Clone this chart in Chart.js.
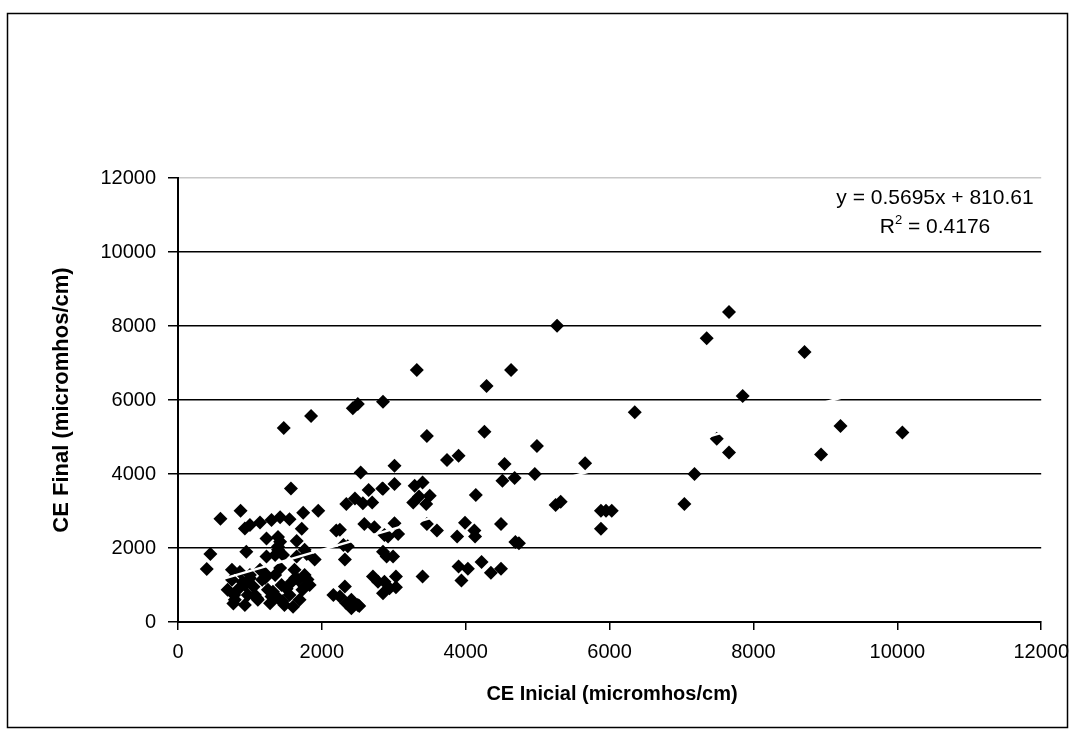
<!DOCTYPE html>
<html>
<head>
<meta charset="utf-8">
<script src="https://cdn.jsdelivr.net/npm/chart.js@4.4.1/dist/chart.umd.min.js"></script>
<style>
html,body{margin:0;padding:0;background:#fff;}
#wrap{position:relative;width:1079px;height:740px;}
canvas{display:block;}
</style>
</head>
<body>
<div id="wrap"><canvas id="c" width="1079" height="740"></canvas></div>
<script>
// ---- data ----
const ceInicial = [
  5270,7660,7350,8710,7850,6350,7490,7660,9210,10070,8940,7180,4990,5660,4960,5250,5320,5880,5950,6030,
  5880,7040,4740,3320,4630,4290,2850,3460,4260,3740,3900,3010,4540,4510,4680,2850,3010,3290,3400,3270,
  3350,3500,3450,4140,3460,3600,3990,4120,4130,3880,4490,4690,3900,4030,3940,4220,4350,4490,3400,3010,
  3060,2870,2920,2850,2990,3030,2870,3030,2850,2430,2500,2540,2650,2840,2340,2460,2570,2700,2590,2730,
  2250,2360,2320,2900,2710,2780,2940,2320,2250,2340,2500,2410,2160,2410,2520,1570,590,870,930,1000,
  1140,1300,1420,1550,1740,1950,1230,1390,1420,1720,1650,2200,450,400,950,2300,1390,1460,1650,1790,
  1900,750,770,1300,1470,1850,1760,1600,1760,1230,1390,1350,
  750,830,930,1000,1070,1170,1250,1350,1440,1550,1670,1730,790,930,1110,1280,1480,1690,860,1140,
  1420,1620,1830,1760,690,970,1210,1390,1580,780,
  1050,1320,1510,1200,900,1630,1100,1450,1800,1000
];
const ceFinal = [
  8010,8380,7670,7300,6110,5670,4950,4580,5300,5120,4530,4000,4760,4290,4000,3160,3250,3010,3010,3010,
  2520,3190,2130,6810,6810,6380,5950,5030,5140,4380,4490,4220,4270,3820,3890,3600,3730,3680,3770,3230,
  3390,3410,3190,3430,2650,2470,2680,2470,2310,2310,2650,2160,1500,1440,1120,1620,1330,1440,1230,2670,
  2380,2350,2310,1900,1770,1230,1090,940,780,5780,5890,4040,3570,3610,3190,3340,3210,3230,2650,2560,
  2490,2050,1690,1770,1230,1090,910,960,690,510,460,370,730,600,430,3610,2790,3010,2530,2620,
  2690,2760,2830,2780,2950,3010,2260,2300,2170,2520,2190,2470,1840,1430,1900,2080,1950,1810,1770,1840,
  1690,1410,500,690,5240,5570,1950,410,960,1770,2040,1810,
  1140,870,1000,1270,730,1140,870,1270,1000,730,1140,870,600,460,600,510,460,600,1350,1410,
  1460,1410,1000,1270,870,730,1190,650,1080,730,
  950,820,900,1330,1080,1190,640,560,1150,1180
];
const trendCoef = [0.5695, 810.61];          // slope, intercept (from the chart's equation)
const xTicks = [0, 2000, 4000, 6000, 8000, 10000, 12000];
const yTicks = [0, 2000, 4000, 6000, 8000, 10000, 12000];
const eqLines = ['y = 0.5695x + 810.61', 'R', '2', ' = 0.4176'];
const xTitle = 'CE Inicial (micromhos/cm)';
const yTitle = 'CE Final (micromhos/cm)';

const points = ceInicial.map((x, i) => ({x: x, y: ceFinal[i]}));
const xMin = Math.min(...ceInicial), xMax = Math.max(...ceInicial);
const trend = [xMin, xMax].map(x => ({x: x, y: trendCoef[0] * x + trendCoef[1]}));

const FONT = '"Liberation Sans", Arial, sans-serif';

const decor = {
  id: 'decor',
  afterDraw(chart) {
    const ctx = chart.ctx;
    ctx.save();
    // outer frame
    ctx.strokeStyle = '#000';
    ctx.lineWidth = 1.5;
    ctx.strokeRect(7.5, 13.5, 1060, 714);
    ctx.fillStyle = '#000';
    // y title
    ctx.save();
    ctx.translate(62, 400);
    ctx.rotate(-Math.PI / 2);
    ctx.font = 'bold 22px ' + FONT;
    ctx.textAlign = 'center';
    ctx.textBaseline = 'middle';
    ctx.fillText(yTitle, 0, 0);
    ctx.restore();
    // x title
    ctx.font = 'bold 20px ' + FONT;
    ctx.textAlign = 'center';
    ctx.textBaseline = 'middle';
    ctx.fillText(xTitle, 612, 694);
    // equation (both lines centred on the same x)
    const cx = 935;
    const big = '21px ' + FONT, small = '13px ' + FONT;
    ctx.font = big;
    ctx.textAlign = 'center';
    ctx.fillText(eqLines[0], cx, 198);
    const wR = ctx.measureText(eqLines[1]).width;
    const wRest = ctx.measureText(eqLines[3]).width;
    ctx.font = small; const w2 = ctx.measureText(eqLines[2]).width;
    const total = wR + w2 + wRest;
    let x0 = cx - total / 2;
    ctx.textAlign = 'left';
    ctx.font = big; ctx.fillText(eqLines[1], x0, 227);
    ctx.font = small; ctx.fillText(eqLines[2], x0 + wR, 220);
    ctx.font = big; ctx.fillText(eqLines[3], x0 + wR + w2, 227);
    ctx.restore();
  }
};

new Chart(document.getElementById('c'), {
  type: 'scatter',
  data: {
    datasets: [
      {
        type: 'line',
        data: trend,
        borderColor: '#ffffff',
        borderWidth: 2.5,
        pointRadius: 0,
        fill: false
      },
      {
        data: points,
        pointStyle: 'rectRot',
        pointRadius: 7,
        backgroundColor: '#000',
        borderColor: '#000',
        borderWidth: 0
      }
    ]
  },
  options: {
    responsive: false,
    animation: false,
    events: [],
    layout: {padding: {left: 0, top: 178, right: 34, bottom: 0}},
    plugins: {legend: {display: false}, tooltip: {enabled: false}},
    scales: {
      x: {
        type: 'linear',
        min: 0, max: 12000,
        afterBuildTicks: s => { s.ticks = xTicks.map(v => ({value: v})); },
        afterFit: s => { s.height = 118; },
        grid: {drawOnChartArea: false, drawTicks: true, tickLength: 8, color: '#000', lineWidth: 1.5},
        border: {display: true, color: '#000', width: 2},
        ticks: {color: '#000', font: {family: FONT, size: 20}, padding: 10, maxRotation: 0,
                callback: v => String(v)}
      },
      y: {
        type: 'linear',
        min: 0, max: 12000,
        afterBuildTicks: s => { s.ticks = yTicks.map(v => ({value: v})); },
        afterFit: s => { s.width = 178; },
        grid: {
          drawTicks: true, tickLength: 10,
          color: c => (c.tick && c.tick.value === 12000) ? '#c8c8c8' : '#000',
          tickColor: '#000',
          lineWidth: 1.5
        },
        border: {display: true, color: '#000', width: 2},
        ticks: {color: '#000', font: {family: FONT, size: 20}, padding: 12,
                callback: v => String(v)}
      }
    }
  },
  plugins: [decor]
});
</script>
</body>
</html>
